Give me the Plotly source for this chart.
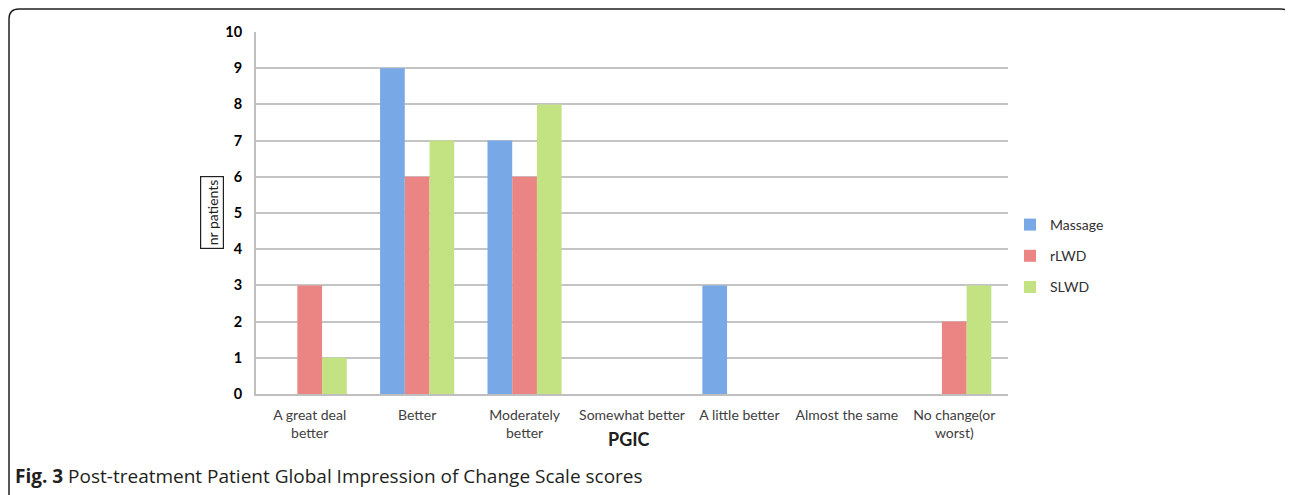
import plotly.graph_objects as go

categories = ["A great deal<br>better", "Better", "Moderately<br>better", "Somewhat better",
              "A little better", "Almost the same", "No change(or<br>worst)"]
massage = [0, 9, 7, 0, 3, 0, 0]
rlwd = [3, 6, 6, 0, 0, 0, 2]
slwd = [1, 7, 8, 0, 0, 0, 3]
series_names = ["Massage", "rLWD", "SLWD"]
series_colors = ["#78a9e6", "#ea8583", "#c3e383"]
y_ticks = list(range(0, 11))

OFF = 8  # page body margin
W, H = 1293 - OFF, 495 - OFF
# target pixel positions in the screenshot
AX_L, AX_R, AX_T, AX_B = 256, 1008, 32, 394
L, T = AX_L - OFF, AX_T - OFF
R = W - (AX_R - OFF)
B = H - (AX_B - OFF)
pw, ph = AX_R - AX_L, AX_B - AX_T

def px(x):
    return (x - AX_L) / pw

def py(y):
    return (AX_B - y) / ph

fig = go.Figure()
for name, vals, col in zip(series_names, [massage, rlwd, slwd], series_colors):
    fig.add_trace(go.Bar(x=categories, y=vals, name=name, marker_color=col,
                         marker_line_width=0, legendgroup=name))

fig.update_layout(
    width=W, height=H,
    margin=dict(l=L, r=R, t=T, b=B),
    paper_bgcolor="white", plot_bgcolor="white",
    barmode="group", bargap=0.31, bargroupgap=0,
    font=dict(family="Lato", color="#404040", size=12),
    showlegend=True,
    legend=dict(x=px(1010), y=py(209), xanchor="left", yanchor="top",
                traceorder="grouped", tracegroupgap=10, itemwidth=30,
                font=dict(family="Lato", size=14, color="#303030")),
    xaxis=dict(showgrid=False, showline=True, linecolor="#bfbfbf", linewidth=2,
               ticks="", tickfont=dict(family="Lato", size=14, color="#404040"),
               ticklabelstandoff=7),
    yaxis=dict(range=[0, 10], tickvals=y_ticks, showgrid=True, gridcolor="#c4c4c4", gridwidth=2,
               showline=True, linecolor="#bfbfbf", linewidth=2, zeroline=False,
               ticks="", tickfont=dict(family="Lato", size=14.5, color="#000000", weight="bold"),
               ticklabelstandoff=9),
)

# axis titles
fig.add_annotation(text="<b>PGIC</b>", x=px(629), y=py(439), xref="paper", yref="paper",
                   showarrow=False, font=dict(family="Lato", size=18, color="#202020"),
                   xanchor="center", yanchor="middle")
fig.add_annotation(text="nr patients", x=px(212), y=py(213), xref="paper", yref="paper",
                   showarrow=False, textangle=-90, font=dict(family="Lato", size=14, color="#202020"),
                   bordercolor="#202020", borderwidth=1.2, borderpad=2.5,
                   xanchor="center", yanchor="middle")
# caption
fig.add_annotation(text="<b>Fig. 3</b> Post-treatment Patient Global Impression of Change Scale scores",
                   x=px(13), y=py(476), xref="paper", yref="paper", showarrow=False,
                   font=dict(family="Open Sans", size=19, color="#231f20"),
                   xanchor="left", yanchor="middle")

# rounded frame
x0, x1 = px(9), px(1291)
yt, yb = py(9), py(520)
rx, ry = 10 / pw, 10 / ph
path = (f"M {x0},{yb} L {x0},{yt - ry} Q {x0},{yt} {x0 + rx},{yt} "
        f"L {x1 - rx},{yt} Q {x1},{yt} {x1},{yt - ry} L {x1},{yb}")
fig.add_shape(type="path", path=path, xref="paper", yref="paper",
              line=dict(color="#231f20", width=1.5))

fig.write_html("out.html")
